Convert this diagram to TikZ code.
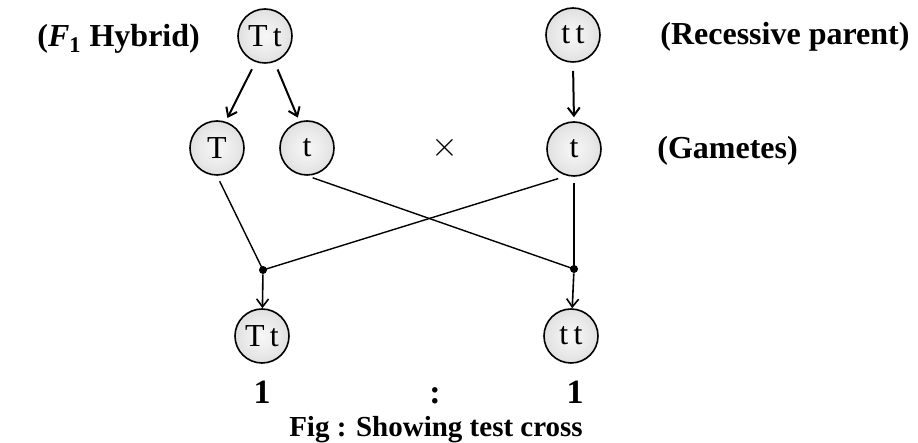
\documentclass[tikz,border=0pt]{standalone}
\usepackage{fontspec}
\setmainfont{Liberation Serif}
\usetikzlibrary{arrows.meta}

\pgfdeclareradialshading{allelefill}{\pgfpoint{0bp}{0bp}}{%
    color(0bp)=(gray!6); color(18bp)=(gray!18); color(50bp)=(gray!48)}

\tikzset{
    allele/.style={circle, draw, line width=0.8pt, minimum size=27pt, inner sep=0pt,
        shading=allelefill, font=\fontsize{16}{18}\selectfont},
    sidelabel/.style={anchor=base west, inner sep=0pt, font=\fontsize{16}{19}\selectfont\bfseries},
    ratio/.style={anchor=base, inner sep=0pt, font=\fontsize{17}{19}\selectfont\bfseries},
    junction/.style={circle, fill, inner sep=0pt, minimum size=4pt},
}

\begin{document}
\begin{tikzpicture}[x=0.5pt, y=-0.5pt, >={Straight Barb[length=4pt, width=6pt]}]

    \useasboundingbox (0,0) rectangle (918,443);

    \node[sidelabel] (hybridlbl) at (37,47) {(\textit{F}\textsubscript{1} Hybrid)};
    \node[sidelabel] (recessivelbl) at (660,45) {(Recessive parent)};
    \node[sidelabel] (gametelbl) at (657,159) {(Gametes)};

    \node[allele] (parentA) at (265,36) {T\,t};
    \node[allele] (parentB) at (573,35) {t\,t};

    \node[allele] (gameteT) at (217,148) {T};
    \node[allele] (gametet) at (307,148) {t};
    \node[allele] (gameteR) at (574,149) {t};
    \node[font=\fontsize{16}{18}\selectfont] (cross) at (445,148) {$\times$};

    \node[junction] (joinL) at (263,270) {};
    \node[junction] (joinR) at (574,269) {};

    \node[allele] (offA) at (262,336) {T\,t};
    \node[allele] (offB) at (571,336) {t\,t};

    \node[ratio] (ratioA) at (262,404) {1};
    \node[ratio] (colon) at (435,404) {:};
    \node[ratio] (ratioB) at (575,404) {1};
    \node[anchor=base, inner sep=0pt, font=\fontsize{14.5}{17}\selectfont\bfseries] (caption) at (436,437) {Fig : Showing test cross};

    \begin{scope}[line width=1pt, shorten <=4pt, shorten >=2pt]
        \draw [->] (parentA.250) -- (gameteT.72);
        \draw [->] (parentA.290) -- (gametet.106);
        \draw [->] (parentB.south) -- (gameteR.north);
    \end{scope}

    \begin{scope}[line width=0.7pt, shorten <=3pt]
        \draw (gameteT.south) -- (joinL.center);
        \draw (gametet.south) -- (joinR.center);
        \draw (gameteR.south) -- (joinR.center);
        \draw ([xshift=-5pt]gameteR.south) -- (joinL.center);
    \end{scope}

    \draw [->, line width=0.8pt] (joinL) -- (offA);
    \draw [->, line width=0.8pt] (joinR) -- (offB);

\end{tikzpicture}
\end{document}
